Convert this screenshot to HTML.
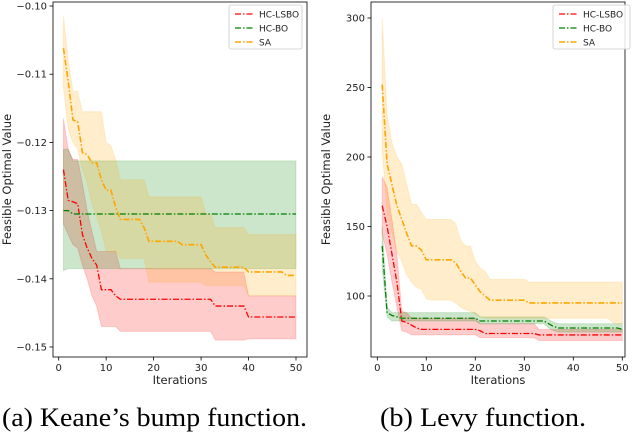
<!DOCTYPE html>
<html><head><meta charset="utf-8"><style>
body{margin:0;background:#fff;width:636px;height:436px;overflow:hidden}
svg text{font-family:"DejaVu Sans","Liberation Sans",sans-serif}
.cap{font-family:"Liberation Serif",serif;font-size:26px;fill:#000}
</style></head><body>
<svg id="s" width="636" height="436" xmlns="http://www.w3.org/2000/svg">
<text class="cap" x="2" y="426" textLength="305" lengthAdjust="spacingAndGlyphs">(a) Keane’s bump function.</text>
<text class="cap" x="380" y="426" textLength="206" lengthAdjust="spacingAndGlyphs">(b) Levy function.</text>
</svg>
<script>
const iters=[1,2,3,4,5,6,7,8,9,10,11,12,13,14,15,16,17,18,19,20,21,22,23,24,25,26,27,28,29,30,31,32,33,34,35,36,37,38,39,40,41,42,43,44,45,46,47,48,49,50];
function rep(v,n){return Array(n).fill(v);}
// Chart A (Keane)
const aRedMean=[-0.124,-0.1285,-0.1287,-0.129,-0.1335,-0.1355,-0.137,-0.138,-0.1416,-0.1416,-0.1416,-0.1425].concat(rep(-0.143,20),rep(-0.144,7),rep(-0.1456,11));
const aRedHi=[-0.1165,-0.121,-0.1225,-0.1225,-0.126,-0.130,-0.133,-0.136,-0.136,-0.136,-0.136,-0.136].concat(rep(-0.1385,20),rep(-0.139,7),rep(-0.1425,11));
const aRedLo=[-0.132,-0.1335,-0.135,-0.1355,-0.138,-0.140,-0.1425,-0.144,-0.147,-0.147,-0.147,-0.147].concat(rep(-0.1477,20),rep(-0.149,7),rep(-0.1488,11));
const aGreenMean=[-0.13,-0.13].concat(rep(-0.1305,48));
const aGreenHi=[-0.121,-0.121].concat(rep(-0.1227,48));
const aGreenLo=[-0.1388].concat(rep(-0.1385,49));
const aOrangeMean=[-0.1062,-0.111,-0.1167,-0.117,-0.1215,-0.1218,-0.123,-0.123,-0.1255,-0.127,-0.127,-0.1295,-0.1313,-0.1313,-0.1313,-0.1313,-0.1313,-0.1325].concat(rep(-0.1345,7),rep(-0.135,5),[-0.1365,-0.1375],rep(-0.1383,7),rep(-0.139,8),rep(-0.1395,3));
const aOrangeHi=[-0.1015,-0.108,-0.1125,-0.1125,-0.1155,-0.1155,-0.1155,-0.1155,-0.1155,-0.12,-0.1205,-0.1225].concat(rep(-0.1255,6),rep(-0.128,12),[-0.1305,-0.1305],rep(-0.1325,7),rep(-0.1335,11));
const aOrangeLo=[-0.112,-0.118,-0.12,-0.121,-0.124,-0.126,-0.129,-0.131,-0.133,-0.136,-0.136,-0.136].concat(rep(-0.137,6),rep(-0.1405,12),[-0.141,-0.141],rep(-0.141,7),rep(-0.1425,11));
const aYTicks=[-0.10,-0.11,-0.12,-0.13,-0.14,-0.15];
const aYLabels=["−0.10","−0.11","−0.12","−0.13","−0.14","−0.15"];
// Chart B (Levy)
const bRedMean=[165,150,130,110,82,81,79,77].concat(rep(76,12),[75],rep(73,11),rep(72,18));
const bRedHi=[186,178,155,130,89,88].concat(rep(84,14),rep(80,12),rep(76,18));
const bRedLo=[145,130,110,92,75,74].concat(rep(72,14),rep(70,12),rep(68,18));
const bGreenMean=[136,88,86,85].concat(rep(84,16),rep(82,14),[80,78],rep(77,13),[76]);
const bGreenHi=[150,92].concat(rep(88,18),rep(85,14),[83,81],rep(80,14));
const bGreenLo=[120,85].concat(rep(82,18),rep(80,14),[77,75],rep(74,14));
const bOrangeMean=[252,195,180,165,155,145,136,136,133,126,126,126,126,126,126,124,118,113,113,108,103,100].concat(rep(97,8),rep(95,20));
const bOrangeHi=[300,230,210,200,195,180,166,166,160,155,155,155,155,155,155,152,140,136,136,125,120,118].concat(rep(112,8),rep(110,20));
const bOrangeLo=[205,160,145,132,125,115,110,106,105,98,97,97,97,97,97,95,92,90,89,87,85].concat(rep(84,26),[81,80,80]);
const bYTicks=[100,150,200,250,300];
const bYLabels=["100","150","200","250","300"];
const xTicks=[0,10,20,30,40,50];

const svg=document.getElementById('s');const NS='http://www.w3.org/2000/svg';
function el(t,a,p){const e=document.createElementNS(NS,t);for(const k in a)e.setAttribute(k,a[k]);(p||svg).appendChild(e);return e;}

function chart(cfg){
  const g=el('g',{});
  
  
  const X=v=>cfg.x0+(v-0)*(cfg.x50-cfg.x0)/50;
  const Y=v=>cfg.yA+(v-cfg.vA)*(cfg.yB-cfg.yA)/(cfg.vB-cfg.vA);
  const series=[
    {n:'hc-lsbo',c:'#ff0000',f:'#ff0000',m:cfg.red[0],hi:cfg.red[1],lo:cfg.red[2],w:1.3},
    {n:'hc-bo',c:'#008000',f:'#008000',m:cfg.green[0],hi:cfg.green[1],lo:cfg.green[2],w:1.3},
    {n:'sa',c:'#ffa500',f:'#ffa500',m:cfg.orange[0],hi:cfg.orange[1],lo:cfg.orange[2],w:1.6}];
  series.forEach(s=>{
    let d='M';iters.forEach((t,i)=>{d+=X(t)+','+Y(s.hi[i])+' L';});
    for(let i=iters.length-1;i>=0;i--){d+=X(iters[i])+','+Y(s.lo[i])+(i?' L':' Z');}
    const b=el('path',{d:d,fill:s.f,'fill-opacity':0.2,stroke:s.f,'stroke-opacity':0.15},g);
    
    
  });
  series.forEach(s=>{
    const pts=iters.map((t,i)=>X(t)+','+Y(s.m[i])).join(' ');
    const l=el('polyline',{points:pts,fill:'none',stroke:s.c,'stroke-width':s.w,'stroke-dasharray':'6,2,1.5,2'},g);
    
    
  });
  const ax=el('rect',{x:cfg.L,y:cfg.T,width:cfg.R-cfg.L,height:cfg.B-cfg.T,fill:'none',stroke:'#000','stroke-width':0.8},g);
  
  
  xTicks.forEach(v=>{
    el('line',{x1:X(v),x2:X(v),y1:cfg.B,y2:cfg.B+3.5,stroke:'#000','stroke-width':0.8},g);
    const t=el('text',{x:X(v),y:cfg.B+14,'font-size':10,'text-anchor':'middle',fill:'#222'},g);t.textContent=v;
    
    
  });
  cfg.yt.forEach((v,i)=>{
    el('line',{x1:cfg.L-3.5,x2:cfg.L,y1:Y(v),y2:Y(v),stroke:'#000','stroke-width':0.8},g);
    const t=el('text',{x:cfg.L-6,y:Y(v)+3.5,'font-size':10,'text-anchor':'end',fill:'#222'},g);t.textContent=cfg.yl[i];
    
    
  });
  const xt=el('text',{x:(cfg.L+cfg.R)/2,y:cfg.B+27,'font-size':11.5,'text-anchor':'middle',fill:'#222'},g);xt.textContent='Iterations';
  
  
  const yx=cfg.ytx,yy=(cfg.T+cfg.B)/2;
  const yt=el('text',{x:yx,y:yy,'font-size':11.5,'text-anchor':'middle',fill:'#222',transform:`rotate(-90 ${yx} ${yy})`},g);yt.textContent='Feasible Optimal Value';
  
  
  const lg=el('g',{},g);
  
  
  el('rect',{x:cfg.lx,y:5,width:cfg.lw,height:44,rx:2,fill:'#fff','fill-opacity':0.85,stroke:'#ccc','stroke-width':0.8},lg);
  series.forEach((s,i)=>{
    const y=14+i*14;
    el('line',{x1:cfg.lx+6,x2:cfg.lx+25,y1:y,y2:y,stroke:s.c,'stroke-width':s.w,'stroke-dasharray':'6,2,1.5,2'},lg);
    const t=el('text',{x:cfg.lx+30,y:y+3.5,'font-size':9,fill:'#222'},lg);t.textContent=['HC-LSBO','HC-BO','SA'][i];
    
    
  });
}
chart({name:'chart-keane',L:53,R:307,T:2,B:357,x0:58.7,x50:296,vA:-0.10,yA:6,vB:-0.15,yB:347,
  red:[aRedMean,aRedHi,aRedLo],green:[aGreenMean,aGreenHi,aGreenLo],orange:[aOrangeMean,aOrangeHi,aOrangeLo],
  yt:aYTicks,yl:aYLabels,ytx:11,lx:229,lw:73});
chart({name:'chart-levy',L:371,R:625,T:2,B:357,x0:377.3,x50:622.3,vA:300,yA:18,vB:100,yB:296,
  red:[bRedMean,bRedHi,bRedLo],green:[bGreenMean,bGreenHi,bGreenLo],orange:[bOrangeMean,bOrangeHi,bOrangeLo],
  yt:bYTicks,yl:bYLabels,ytx:330,lx:553,lw:77});
</script>
</body></html>
